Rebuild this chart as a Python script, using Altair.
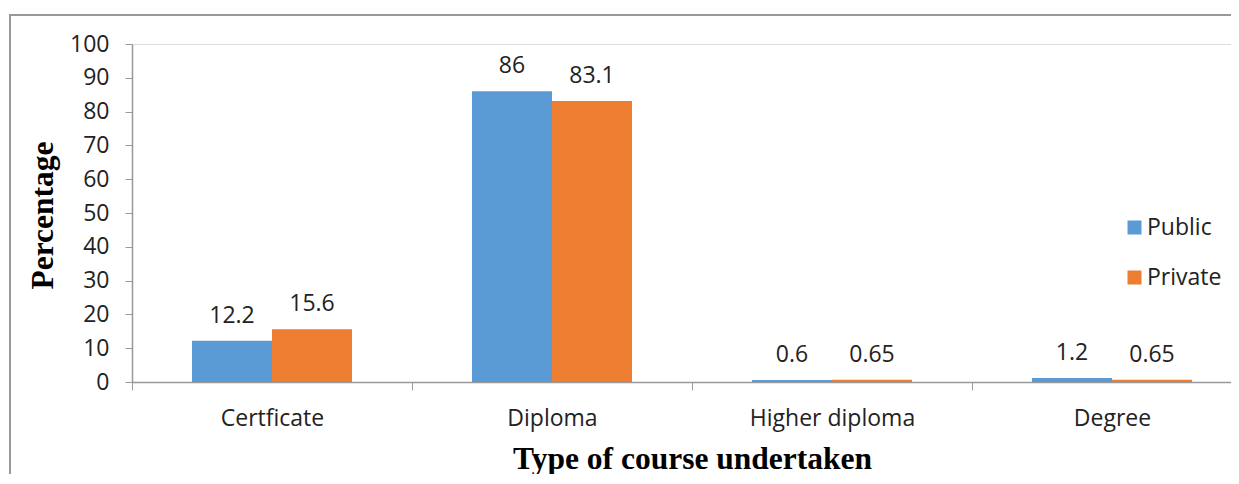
import altair as alt
import pandas as pd

categories = ["Certficate", "Diploma", "Higher diploma", "Degree"]
series = ["Public", "Private"]
public_vals = [12.2, 86, 0.6, 1.2]
private_vals = [15.6, 83.1, 0.65, 0.65]
public_labels = ["12.2", "86", "0.6", "1.2"]
private_labels = ["15.6", "83.1", "0.65", "0.65"]
y_ticks = [0, 10, 20, 30, 40, 50, 60, 70, 80, 90, 100]
colors = ["#5B9BD5", "#ED7D31"]

rows = []
for i, c in enumerate(categories):
    rows.append({"cat": c, "series": "Public", "value": public_vals[i], "label": public_labels[i]})
    rows.append({"cat": c, "series": "Private", "value": private_vals[i], "label": private_labels[i]})
df = pd.DataFrame(rows)

LABEL_FONT = "Open Sans"
LABEL_SIZE = 23
TITLE_SIZE = 31.5
PLOT_W = 1099
PLOT_H = 338

x_enc = alt.X(
    "cat:N",
    sort=categories,
    scale=alt.Scale(range=[0, 1120], paddingInner=0, paddingOuter=0),
    axis=alt.Axis(
        title="Type of course undertaken",
        titleFont="Liberation Serif",
        titleFontWeight="bold",
        titleFontSize=TITLE_SIZE,
        titleColor="#000000",
        titleX=560,
        titleY=86,
        titleBaseline="alphabetic",
        titleAlign="center",
        labelAngle=0,
        labelFont=LABEL_FONT,
        labelFontSize=LABEL_SIZE,
        labelColor="#222222",
        labelBaseline="alphabetic",
        labelPadding=35,
        tickBand="extent",
        tickSize=8,
        tickColor="#999999",
        domainColor="#999999",
        domainWidth=1.5,
        grid=False,
    ),
)
xoff = alt.XOffset(
    "series:N",
    sort=series,
    scale=alt.Scale(paddingInner=0, paddingOuter=0.75),
)
y_enc = alt.Y(
    "value:Q",
    scale=alt.Scale(domain=[0, 100], nice=False),
    axis=alt.Axis(
        values=y_ticks,
        labelOverlap=False,
        title="Percentage",
        titleFont="Liberation Serif",
        titleFontWeight="bold",
        titleFontSize=TITLE_SIZE,
        titleColor="#000000",
        titleAngle=-90,
        titleX=-89,
        titleY=171,
        titleAlign="center",
        titleBaseline="middle",
        labelFont=LABEL_FONT,
        labelFontSize=LABEL_SIZE,
        labelColor="#222222",
        labelPadding=16,
        tickSize=7,
        tickColor="#999999",
        domainColor="#999999",
        domainWidth=1.5,
        grid=False,
    ),
)

color_enc = alt.Color(
    "series:N",
    sort=series,
    scale=alt.Scale(domain=series, range=colors),
    legend=alt.Legend(
        title=None,
        orient="none",
        legendX=991,
        legendY=172,
        symbolType="square",
        symbolSize=196,
        symbolStrokeWidth=0,
        labelFont=LABEL_FONT,
        labelFontSize=LABEL_SIZE,
        labelColor="#222222",
        labelOffset=1,
        rowPadding=26,
        padding=0,
    ),
)

base = alt.Chart(df)

bars = base.mark_bar(size=80).encode(
    x=x_enc, xOffset=xoff, y=y_enc, color=color_enc
)

texts = base.mark_text(
    font=LABEL_FONT, fontSize=LABEL_SIZE, color="#222222", dy=-18, baseline="alphabetic"
).encode(
    x=x_enc,
    xOffset=xoff,
    y=y_enc,
    text="label:N",
)

frame_df = pd.DataFrame({"k": [0]})
frame_top = alt.Chart(frame_df).mark_rule(
    stroke="#999999", strokeWidth=2, clip=False
).encode(x=alt.value(-123), x2=alt.value(PLOT_W), y=alt.value(-29))
frame_left = alt.Chart(frame_df).mark_rule(
    stroke="#999999", strokeWidth=2, clip=False
).encode(x=alt.value(-122), y=alt.value(-30), y2=alt.value(440))

chart = (
    alt.layer(frame_top, frame_left, bars, texts)
    .properties(
        width=PLOT_W,
        height=PLOT_H,
        autosize=alt.AutoSizeParams(type="none"),
        padding={"left": 124, "top": 36, "right": 0, "bottom": 92},
    )
    .configure_view(stroke=None)
    .configure(background="#ffffff")
)

chart.save("out.html", embed_options={"renderer": "svg", "actions": False})
